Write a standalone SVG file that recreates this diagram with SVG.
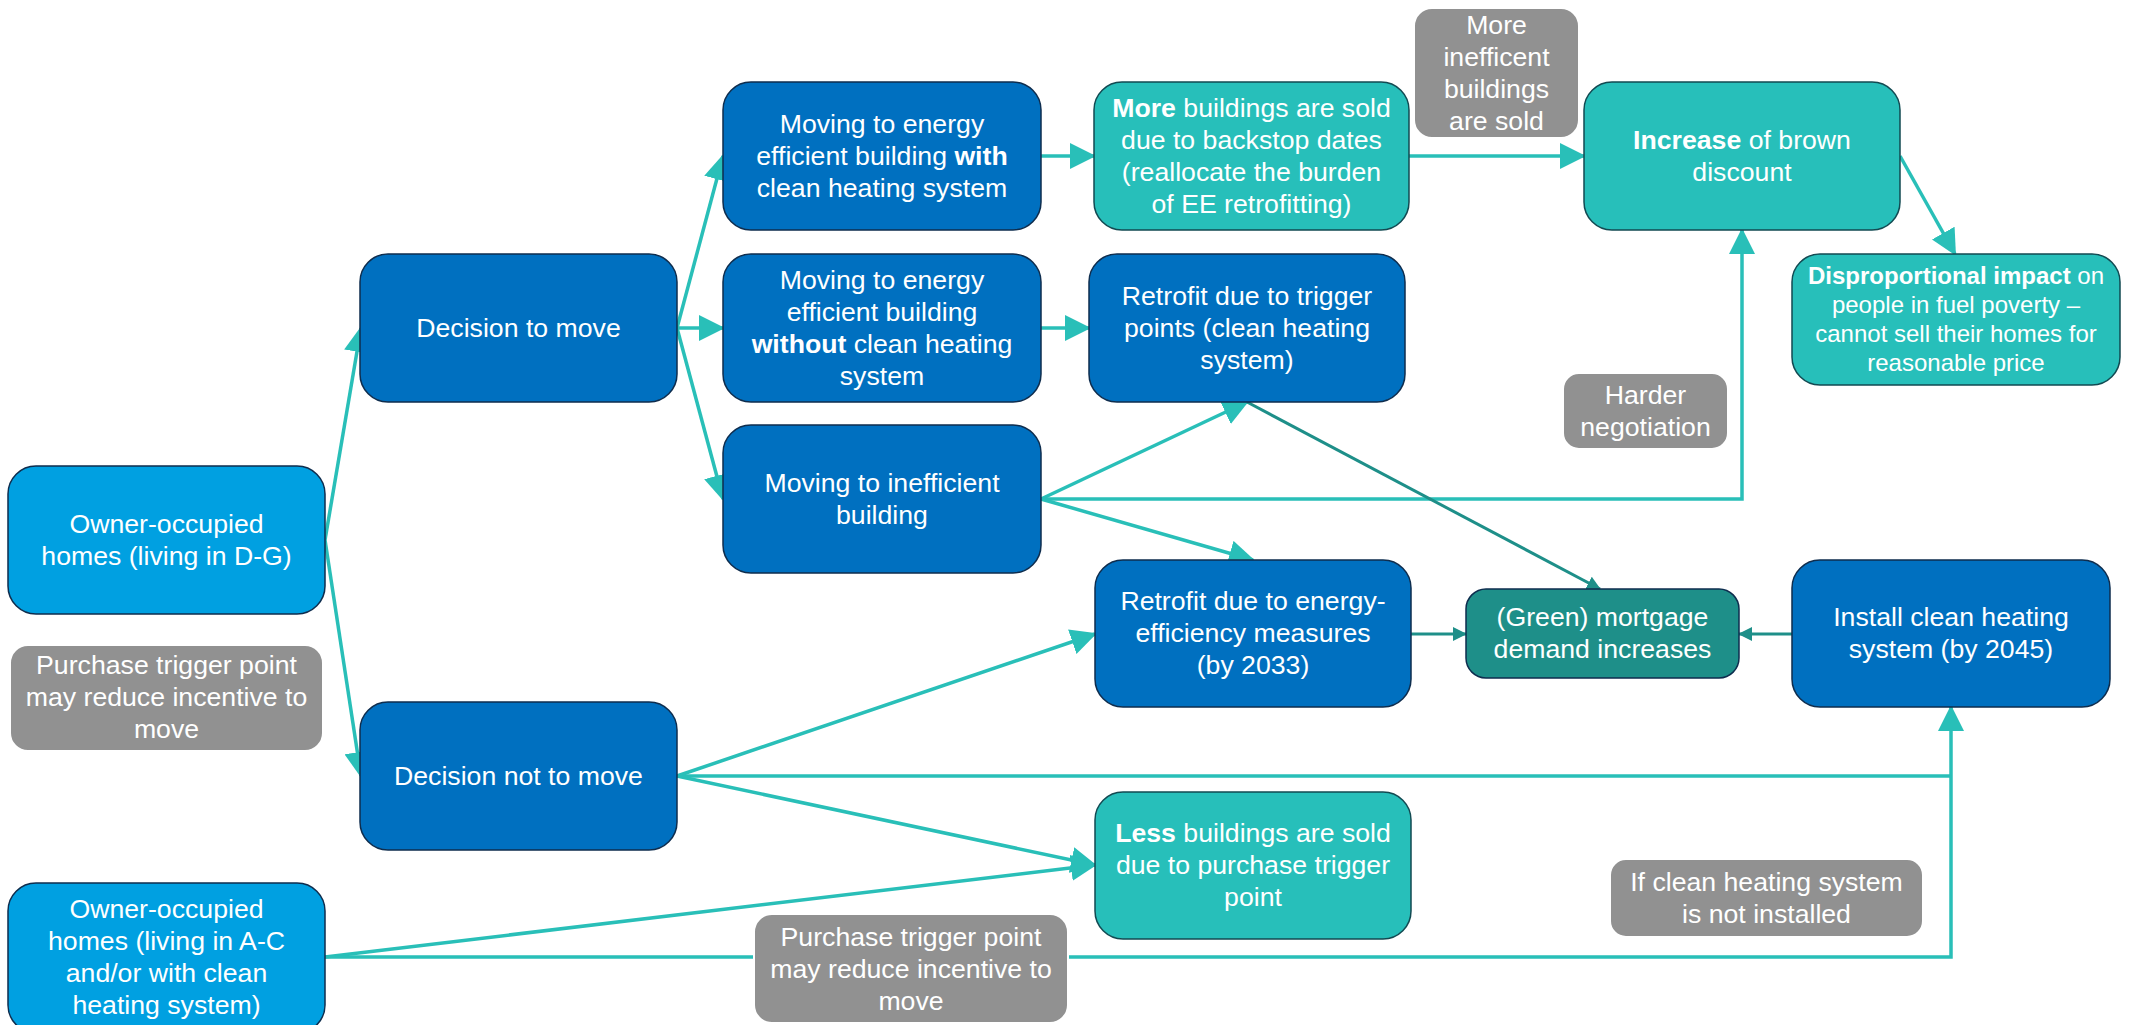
<svg xmlns="http://www.w3.org/2000/svg" width="2130" height="1025" viewBox="0 0 2130 1025">
<defs>
<marker id="ah" viewBox="0 0 26 26" markerWidth="26" markerHeight="26" refX="24" refY="13" orient="auto" markerUnits="userSpaceOnUse"><path d="M0,0 L26,13 L0,26 z" fill="#29BFB8"/></marker>
<marker id="ahd" viewBox="0 0 14 14" markerWidth="14" markerHeight="14" refX="13" refY="7" orient="auto" markerUnits="userSpaceOnUse"><path d="M0,0 L14,7 L0,14 z" fill="#1E8F89"/></marker>
<style>
.c{fill:none;stroke:#29BFB8;stroke-width:3.5;marker-end:url(#ah)}
.cn{fill:none;stroke:#29BFB8;stroke-width:3.5}
.d{fill:none;stroke:#1E8F89;stroke-width:3;marker-end:url(#ahd)}
.db{fill:#0070C0;stroke:#0E2D4E;stroke-width:1.5}
.lb{fill:#00A0E1;stroke:#0E2D4E;stroke-width:1.5}
.tl{fill:#27BFBA;stroke:#124A52;stroke-width:1.5}
.dt{fill:#1E8F89;stroke:#0E2D4E;stroke-width:1.5}
.gr{fill:#919191;stroke:#FFFFFF;stroke-width:2}
text{font-family:"Liberation Sans",Arial,sans-serif;font-size:26.67px;fill:#FFFFFF;text-anchor:middle}
.s{font-size:24px}
.b{font-weight:bold}
</style>
</defs>
<g id="connectors">
<line class="c" x1="325" y1="540" x2="361" y2="328"/>
<line class="c" x1="325" y1="540" x2="361" y2="776"/>
<line class="c" x1="677" y1="328" x2="723" y2="156"/>
<line class="c" x1="677" y1="328" x2="723" y2="328"/>
<line class="c" x1="677" y1="328" x2="723" y2="499"/>
<line class="c" x1="1041" y1="156" x2="1094" y2="156"/>
<line class="c" x1="1041" y1="328" x2="1089" y2="328"/>
<line class="c" x1="1409" y1="156" x2="1584" y2="156"/>
<line class="c" x1="1900" y1="156" x2="1955" y2="254"/>
<line class="c" x1="1041" y1="499" x2="1247" y2="402"/>
<line class="c" x1="1041" y1="499" x2="1253" y2="560"/>
<polyline class="c" points="1041,499 1742,499 1742,230"/>
<line class="c" x1="677" y1="776" x2="1095" y2="634"/>
<line class="c" x1="677" y1="776" x2="1095" y2="865"/>
<polyline class="cn" points="677,776 1951,776"/>
<line class="c" x1="325" y1="957" x2="1095" y2="865"/>
<polyline class="c" points="325,957 1951,957 1951,707"/>
<line class="d" x1="1247" y1="402" x2="1600" y2="589"/>
<line class="d" x1="1411" y1="634" x2="1466" y2="634"/>
<line class="d" x1="1792" y1="634" x2="1739" y2="634"/>
</g>
<g id="n1"><rect class="lb" x="8" y="466" width="317" height="148" rx="28"/><text x="166.5" y="533">Owner-occupied</text><text x="166.5" y="565">homes (living in D-G)</text></g>
<g id="n2"><rect class="gr" x="10" y="645" width="313" height="106" rx="18"/><text x="166.5" y="674">Purchase trigger point</text><text x="166.5" y="706">may reduce incentive to</text><text x="166.5" y="738">move</text></g>
<g id="n3"><rect class="db" x="360" y="254" width="317" height="148" rx="28"/><text x="518.5" y="337">Decision to move</text></g>
<g id="n4"><rect class="db" x="360" y="702" width="317" height="148" rx="28"/><text x="518.5" y="785">Decision not to move</text></g>
<g id="n5"><rect class="lb" x="8" y="883" width="317" height="150" rx="28"/><text x="166.5" y="918">Owner-occupied</text><text x="166.5" y="950">homes (living in A-C</text><text x="166.5" y="982">and/or with clean</text><text x="166.5" y="1014">heating system)</text></g>
<g id="n6"><rect class="db" x="723" y="82" width="318" height="148" rx="28"/><text x="882" y="133">Moving to energy</text><text x="882" y="165">efficient building <tspan class="b">with</tspan></text><text x="882" y="197">clean heating system</text></g>
<g id="n7"><rect class="db" x="723" y="254" width="318" height="148" rx="28"/><text x="882" y="289">Moving to energy</text><text x="882" y="321">efficient building</text><text x="882" y="353"><tspan class="b">without</tspan> clean heating</text><text x="882" y="385">system</text></g>
<g id="n8"><rect class="db" x="723" y="425" width="318" height="148" rx="28"/><text x="882" y="492">Moving to inefficient</text><text x="882" y="524">building</text></g>
<g id="n9"><rect class="tl" x="1094" y="82" width="315" height="148" rx="28"/><text x="1251.5" y="117"><tspan class="b">More</tspan> buildings are sold</text><text x="1251.5" y="149">due to backstop dates</text><text x="1251.5" y="181">(reallocate the burden</text><text x="1251.5" y="213">of EE retrofitting)</text></g>
<g id="n10"><rect class="gr" x="1414" y="8" width="165" height="130" rx="18"/><text x="1496.5" y="34">More</text><text x="1496.5" y="66">inefficent</text><text x="1496.5" y="98">buildings</text><text x="1496.5" y="130">are sold</text></g>
<g id="n11"><rect class="tl" x="1584" y="82" width="316" height="148" rx="28"/><text x="1742" y="149"><tspan class="b">Increase</tspan> of brown</text><text x="1742" y="181">discount</text></g>
<g id="n12"><rect class="tl" x="1792" y="254" width="328" height="131" rx="28"/><text class="s" x="1956" y="284"><tspan class="b">Disproportional impact</tspan> on</text><text class="s" x="1956" y="313">people in fuel poverty –</text><text class="s" x="1956" y="342">cannot sell their homes for</text><text class="s" x="1956" y="371">reasonable price</text></g>
<g id="n13"><rect class="db" x="1089" y="254" width="316" height="148" rx="28"/><text x="1247" y="305">Retrofit due to trigger</text><text x="1247" y="337">points (clean heating</text><text x="1247" y="369">system)</text></g>
<g id="n14"><rect class="gr" x="1563" y="373" width="165" height="76" rx="16"/><text x="1645.5" y="404">Harder</text><text x="1645.5" y="436">negotiation</text></g>
<g id="n15"><rect class="db" x="1095" y="560" width="316" height="147" rx="28"/><text x="1253" y="610">Retrofit due to energy-</text><text x="1253" y="642">efficiency measures</text><text x="1253" y="674">(by 2033)</text></g>
<g id="n16"><rect class="dt" x="1466" y="589" width="273" height="89" rx="20"/><text x="1602.5" y="626">(Green) mortgage</text><text x="1602.5" y="658">demand increases</text></g>
<g id="n17"><rect class="db" x="1792" y="560" width="318" height="147" rx="28"/><text x="1951" y="626">Install clean heating</text><text x="1951" y="658">system (by 2045)</text></g>
<g id="n18"><rect class="tl" x="1095" y="792" width="316" height="147" rx="28"/><text x="1253" y="842"><tspan class="b">Less</tspan> buildings are sold</text><text x="1253" y="874">due to purchase trigger</text><text x="1253" y="906">point</text></g>
<g id="n19"><rect class="gr" x="1610" y="859" width="313" height="78" rx="16"/><text x="1766.5" y="891">If clean heating system</text><text x="1766.5" y="923">is not installed</text></g>
<g id="n20"><rect class="gr" x="754" y="914" width="314" height="109" rx="18"/><text x="911" y="946">Purchase trigger point</text><text x="911" y="978">may reduce incentive to</text><text x="911" y="1010">move</text></g>
</svg>
